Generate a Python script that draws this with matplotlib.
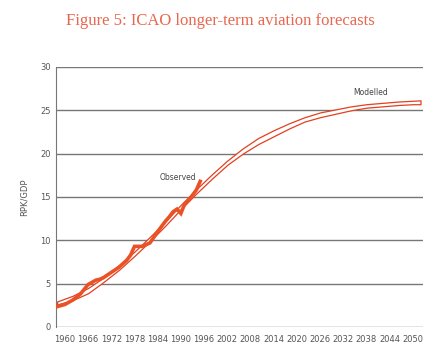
import matplotlib
matplotlib.use('Agg')
import matplotlib.pyplot as plt

# Modelled band (upper and lower edges)
model_years = [1958, 1962, 1966, 1970, 1974, 1978, 1982, 1986, 1990, 1994, 1998, 2002,
               2006, 2010, 2014, 2018, 2022, 2026, 2030, 2034, 2038, 2042, 2046, 2050, 2052]
model_upper = [2.95, 3.6, 4.5, 5.7, 7.1, 8.7, 10.4, 12.2, 14.1, 15.9, 17.6, 19.2,
               20.6, 21.8, 22.7, 23.5, 24.2, 24.75, 25.1, 25.45, 25.7, 25.85, 26.0, 26.1, 26.15]
model_lower = [2.6, 3.1, 3.9, 5.2, 6.6, 8.2, 9.9, 11.7, 13.6, 15.4, 17.1, 18.7,
               20.0, 21.1, 22.0, 22.9, 23.7, 24.2, 24.6, 25.0, 25.3, 25.45, 25.6, 25.7, 25.7]

# Observed series
obs_years = [1958, 1960, 1962, 1964, 1966, 1968, 1969, 1970, 1972, 1974, 1976, 1977, 1978,
             1980, 1982, 1984, 1986, 1987, 1988, 1989, 1990, 1991, 1992, 1994, 1995]
obs_vals = [2.35, 2.6, 3.1, 3.8, 4.9, 5.4, 5.5, 5.7, 6.3, 6.9, 7.7, 8.3, 9.3,
            9.3, 9.7, 11.0, 12.2, 12.7, 13.3, 13.6, 13.1, 14.2, 14.6, 15.8, 16.8]

xticks = list(range(1960, 2051, 6))
yticks = [0, 5, 10, 15, 20, 25, 30]

red = '#e2401f'
orange = '#ea5226'
grey = '#777777'

fig = plt.figure(figsize=(4.46, 3.58), dpi=100)
ax = fig.add_axes([0.1256, 0.0866, 0.8224, 0.7264])

for y in yticks:
    ax.axhline(y, color=grey, lw=1.0, zorder=1)

ax.fill_between(model_years, model_lower, model_upper, facecolor='white',
                edgecolor=red, lw=0.9, zorder=2)
ax.plot(obs_years, obs_vals, color=orange, lw=2.6, solid_joinstyle='miter', zorder=3)

ax.text(1989.3, 17.3, 'Observed', fontsize=5.5, color='#444444', ha='center', va='center')
ax.text(2039.1, 27.0, 'Modelled', fontsize=5.5, color='#444444', ha='center', va='center')

ax.set_xlim(1957.7, 2052.6)
ax.set_ylim(0, 30)
ax.set_xticks(xticks)
ax.set_yticks(yticks)
ax.tick_params(length=0, labelsize=6, labelcolor='#555555')
ax.tick_params(axis='x', pad=6)
ax.tick_params(axis='y', pad=4)
for s in ['top', 'right', 'bottom']:
    ax.spines[s].set_visible(False)
ax.spines['left'].set_color(grey)
ax.set_ylabel('RPK/GDP', fontsize=6, color='#555555', labelpad=8)

fig.text(0.495, 0.942, 'Figure 5: ICAO longer-term aviation forecasts', ha='center', va='center',
         fontsize=12, color='#e8674f', family='Liberation Serif')

fig.savefig('out.png', dpi=100)
